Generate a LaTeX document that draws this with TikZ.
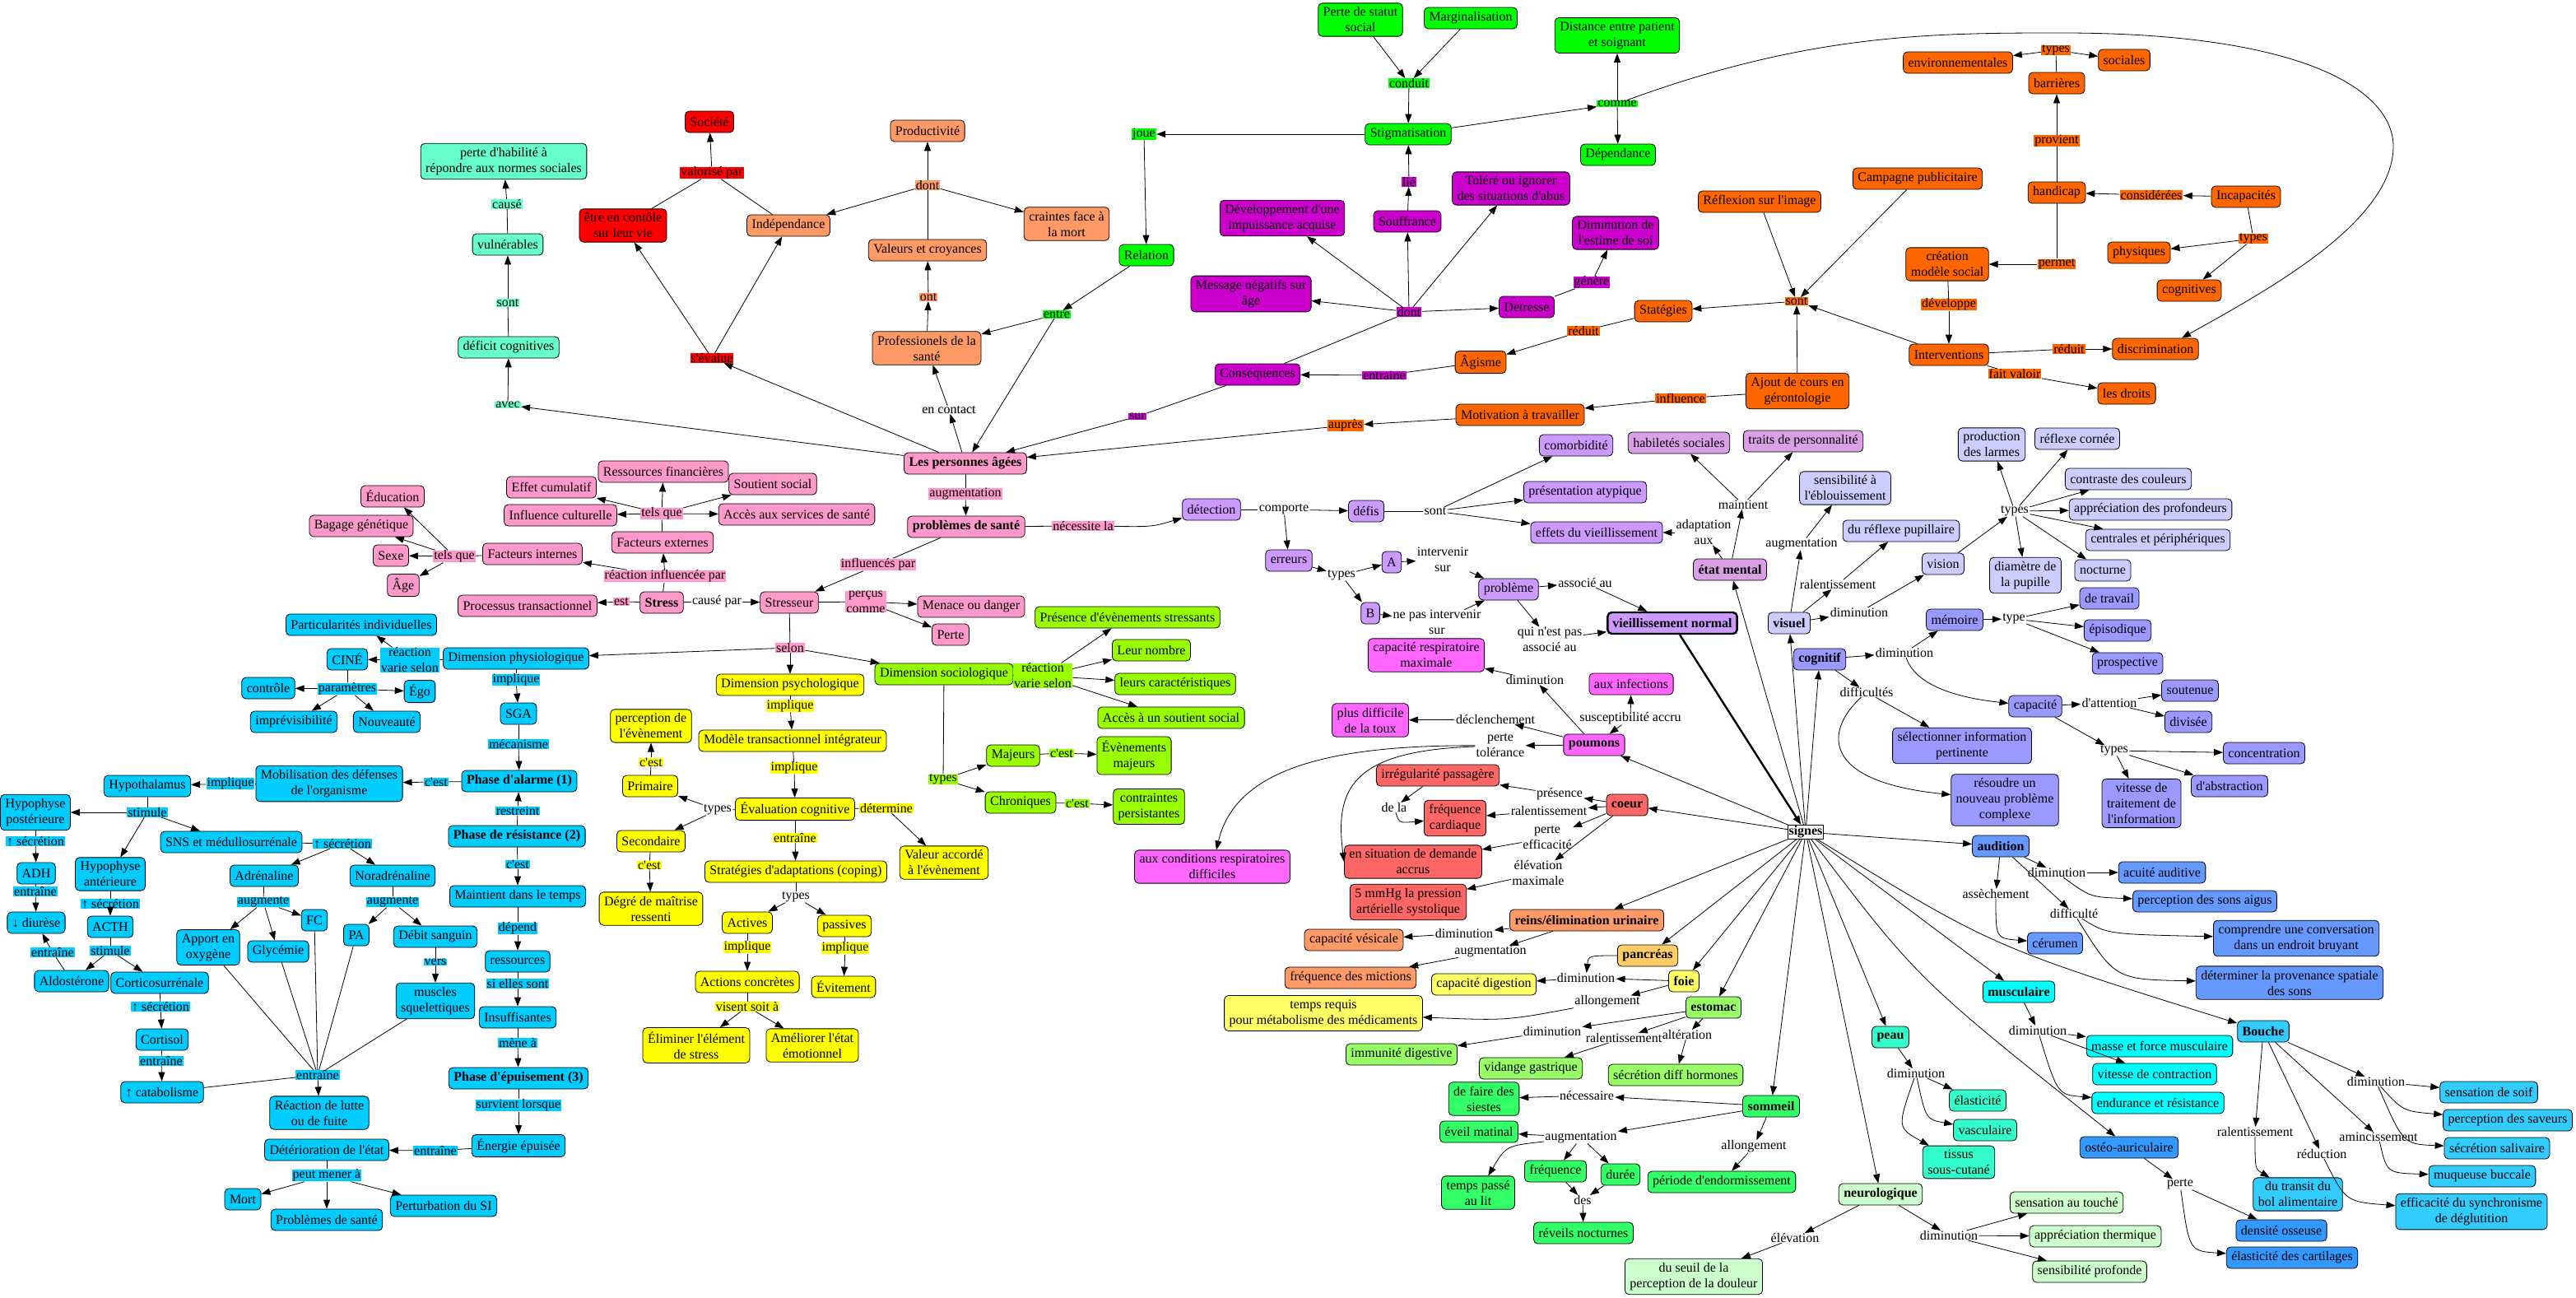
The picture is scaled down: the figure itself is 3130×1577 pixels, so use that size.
\documentclass[tikz,border=0pt]{standalone}
\usepackage{fontspec}
\setmainfont{Liberation Serif}[Ligatures=TeXOff]
\usetikzlibrary{arrows.meta}

\definecolor{cAqua}{HTML}{66FFCC}
\definecolor{cRed}{HTML}{FF0000}
\definecolor{cSalmon}{HTML}{FF9966}
\definecolor{cGreen}{HTML}{00FF00}
\definecolor{cMauve}{HTML}{CC00CC}
\definecolor{cOrange}{HTML}{FF6600}
\definecolor{cPink}{HTML}{FF99CC}
\definecolor{cLilac}{HTML}{CC99FF}
\definecolor{cPlum}{HTML}{D9A0E6}
\definecolor{cPeri}{HTML}{CCCCFF}
\definecolor{cPeriD}{HTML}{9999FF}
\definecolor{cAud}{HTML}{6699FF}
\definecolor{cCyan}{HTML}{00FFFF}
\definecolor{cMouth}{HTML}{33CCFF}
\definecolor{cBone}{HTML}{3399FF}
\definecolor{cPhys}{HTML}{00CCFF}
\definecolor{cYellow}{HTML}{FFFF00}
\definecolor{cLime}{HTML}{99FF00}
\definecolor{cLung}{HTML}{FF66FF}
\definecolor{cHeart}{HTML}{FF6666}
\definecolor{cPanc}{HTML}{FFCC66}
\definecolor{cLiver}{HTML}{FFFF66}
\definecolor{cStom}{HTML}{99FF66}
\definecolor{cSleep}{HTML}{33FF66}
\definecolor{cSkin}{HTML}{33FFCC}
\definecolor{cNeuro}{HTML}{CCFFCC}

\tikzset{
  box/.style={draw, rounded corners=5pt, align=center, inner xsep=6pt, inner ysep=5pt, minimum height=26pt},
  bbox/.style={box, font=\fontsize{16}{19}\selectfont\bfseries},
  lbl/.style={align=center, inner xsep=1pt, inner ysep=0pt},
  ar/.style={-{Triangle[length=11pt,width=8pt]}},
}

\begin{document}
\begin{tikzpicture}[x=1pt, y=-1pt, line width=0.8pt, every node/.style={font=\fontsize{16}{19}\selectfont}]
\fill[white] (0,0) rectangle (3130,1577);
\useasboundingbox (0,0) rectangle (3130,1577);

% cognition and autonomy
\node[box, fill=cAqua] (perte) at (612,196) {perte d'habilité à\\répondre aux normes sociales};
\node[lbl, fill=cAqua] (cause) at (616,248) {causé};
\node[box, fill=cAqua] (vuln) at (617,297) {vulnérables};
\node[lbl, fill=cAqua] (sont1) at (617,368) {sont};
\node[box, fill=cAqua] (deficit) at (618,422) {déficit cognitives};
\node[lbl, fill=cAqua] (avec) at (617,492) {avec};
\node[box, fill=cRed] (controle) at (757,274) {être en contôle\\sur leur vie};
\node[box, fill=cRed] (societe) at (862,148) {Société};
\node[lbl, fill=cRed] (valor) at (865,210) {valorisé par};
\node[lbl, fill=cRed] (seval) at (865,435) {s'évalue};
\node[box, fill=cSalmon] (indep) at (958,274) {Indépendance};
\node[box, fill=cSalmon] (product) at (1127,159) {Productivité};
\node[lbl, fill=cSalmon] (dont1) at (1127,225) {dont};
\node[box, fill=cSalmon] (craintes) at (1296,272) {craintes face à\\la mort};
\node[box, fill=cSalmon] (valeurs) at (1127,304) {Valeurs et croyances};
\node[lbl, fill=cSalmon] (ont) at (1128,361) {ont};
\node[box, fill=cSalmon] (prof) at (1126,423) {Professionels de la\\santé};
\node[lbl, fill=gray!10] (contact) at (1153,498) {en contact};

% stigmatisation
\node[lbl, fill=cGreen] (joue) at (1390,163) {joue};
\node[box, fill=cGreen] (relation) at (1393,310) {Relation};
\node[lbl, fill=cGreen] (entre) at (1284,382) {entre};
\node[box, fill=cGreen] (statut) at (1653,24) {Perte de statut\\social};
\node[box, fill=cGreen] (margin) at (1787,22) {Marginalisation};
\node[lbl, fill=cGreen] (conduit) at (1712,101) {conduit};
\node[box, fill=cGreen] (stigma) at (1711,163) {Stigmatisation};
\node[box, fill=cGreen] (distance) at (1965,43) {Distance entre patient\\et soignant};
\node[lbl, fill=cGreen] (comme) at (1965,126) {comme};
\node[box, fill=cGreen] (depend) at (1966,188) {Dépendance};
\node[lbl, fill=cMauve] (lie) at (1712,221) {lié};
\node[box, fill=cMauve] (souff) at (1710,269) {Souffrance};
\node[box, fill=cMauve] (tolere) at (1836,229) {Toléré ou ignorer\\des situations d'abus};
\node[box, fill=cMauve] (impuiss) at (1558,265) {Développement d'une\\impuissance acquise};
\node[box, fill=cMauve] (message) at (1520,357) {Message négatifs sur\\âge};
\node[box, fill=cMauve] (estime) at (1963,283) {Diminution de\\l'estime de soi};
\node[lbl, fill=cMauve] (genere) at (1934,343) {génère};
\node[lbl, fill=cMauve] (dont2) at (1712,379) {dont};
\node[box, fill=cMauve] (detresse) at (1855,373) {Détresse};
\node[box, fill=cMauve] (conseq) at (1528,455) {Conséquences};
\node[lbl, fill=cMauve] (entraine1) at (1682,456) {entraine};
\node[lbl, fill=cMauve] (sur) at (1382,506) {sur};

% strategies and handicap
\node[box, fill=cOrange] (agisme) at (1799,440) {Âgisme};
\node[lbl, fill=cOrange] (reduit1) at (1924,402) {réduit};
\node[box, fill=cOrange] (strat) at (2021,378) {Statégies};
\node[lbl, fill=cOrange] (sont2) at (2183,366) {sont};
\node[box, fill=cOrange] (reflex) at (2138,245) {Réflexion sur l'image};
\node[box, fill=cOrange] (campagne) at (2330,217) {Campagne publicitaire};
\node[box, fill=cOrange] (cours) at (2184,475) {Ajout de cours en\\gérontologie};
\node[lbl, fill=cOrange] (influ) at (2042,484) {influence};
\node[box, fill=cOrange] (motiv) at (1847,504) {Motivation à travailler};
\node[lbl, fill=cOrange] (aupres) at (1635,517) {auprès};
\node[box, fill=cOrange] (interv) at (2368,431) {Interventions};
\node[box, fill=cOrange] (creation) at (2366,321) {création\\modèle social};
\node[lbl, fill=cOrange] (develop) at (2368,370) {développe};
\node[box, fill=cOrange] (environ) at (2379,76) {environnementales};
\node[lbl, fill=cOrange] (types1) at (2498,61) {types};
\node[box, fill=cOrange] (sociales) at (2581,73) {sociales};
\node[box, fill=cOrange] (barr) at (2499,101) {barrières};
\node[lbl, fill=cOrange] (provient) at (2499,171) {provient};
\node[box, fill=cOrange] (handicap) at (2499,234) {handicap};
\node[lbl, fill=cOrange] (consid) at (2614,237) {considérées};
\node[box, fill=cOrange] (incap) at (2729,239) {Incapacités};
\node[lbl, fill=cOrange] (types2) at (2738,290) {types};
\node[box, fill=cOrange] (physiq) at (2599,307) {physiques};
\node[box, fill=cOrange] (cognitiv) at (2660,353) {cognitives};
\node[lbl, fill=cOrange] (permet) at (2499,321) {permet};
\node[lbl, fill=cOrange] (reduit2) at (2514,424) {réduit};
\node[box, fill=cOrange] (discr) at (2619,424) {discrimination};
\node[lbl, fill=cOrange] (valoir) at (2448,454) {fait valoir};
\node[box, fill=cOrange] (droits) at (2584,478) {les droits};

% elderly, health and stress
\node[bbox, fill=cPink] (lpa) at (1173,563) {Les personnes âgées};
\node[lbl, fill=cPink] (augm1) at (1173,600) {augmentation};
\node[bbox, fill=cPink] (probl) at (1174,640) {problèmes de santé};
\node[lbl, fill=cPink] (necess) at (1316,639) {nécessite la};
\node[lbl, fill=cPink] (influp) at (1067,686) {influencés par};
\node[box, fill=cPink] (stresseur) at (959,732) {Stresseur};
\node[bbox, fill=cPink] (stress) at (804,732) {Stress};
\node[lbl] (causepar) at (871,731) {causé par};
\node[lbl, fill=cPink] (percus) at (1052,731) {perçus\\comme};
\node[box, fill=cPink] (menace) at (1180,737) {Menace ou danger};
\node[box, fill=cPink] (pertep) at (1155,771) {Perte};
\node[lbl, fill=cPink] (est) at (755,731) {est};
\node[box, fill=cPink] (processus) at (641,736) {Processus transactionnel};
\node[lbl, fill=cPink] (reacinf) at (808,700) {réaction influencée par};
\node[box, fill=cPink] (factint) at (647,673) {Facteurs internes};
\node[box, fill=cPink] (factext) at (805,659) {Facteurs externes};
\node[lbl, fill=cPink] (tels1) at (552,676) {tels que};
\node[lbl, fill=cPink] (tels2) at (804,624) {tels que};
\node[box, fill=cPink] (educ) at (477,603) {Éducation};
\node[box, fill=cPink] (bagage) at (439,639) {Bagage génétique};
\node[box, fill=cPink] (sexe) at (475,675) {Sexe};
\node[box, fill=cPink] (age) at (490,711) {Âge};
\node[box, fill=cPink] (ressfin) at (806,573) {Ressources financières};
\node[box, fill=cPink] (cumul) at (670,592) {Effet cumulatif};
\node[box, fill=cPink] (soutien) at (939,588) {Soutient social};
\node[box, fill=cPink] (cultur) at (681,626) {Influence culturelle};
\node[box, fill=cPink] (acces) at (968,625) {Accès aux services de santé};
\node[lbl, fill=cPink] (selon) at (960,787) {selon};

% physiological dimension
\node[box, fill=cPhys] (dimphys) at (627,800) {Dimension physiologique};
\node[box, fill=cPhys] (partic) at (439,759) {Particularités individuelles};
\node[lbl, fill=cPhys] (reacvar1) at (498,802) {réaction\\varie selon};
\node[box, fill=cPhys] (cine) at (422,801) {CINÉ};
\node[lbl, fill=cPhys] (param) at (422,837) {paramètres};
\node[box, fill=cPhys] (controle2) at (326,836) {contrôle};
\node[box, fill=cPhys] (ego) at (510,840) {Égo};
\node[box, fill=cPhys] (imprev) at (357,877) {imprévisibilité};
\node[box, fill=cPhys] (nouveau) at (470,877) {Nouveauté};
\node[lbl, fill=cPhys] (impl1) at (627,826) {implique};
\node[box, fill=cPhys] (sga) at (630,867) {SGA};
\node[lbl, fill=cPhys] (mecan) at (630,904) {mécanisme};
\node[bbox, fill=cPhys] (alarme) at (631,949) {Phase d'alarme (1)};
\node[lbl, fill=cPhys] (cest1) at (530,950) {c'est};
\node[box, fill=cPhys] (mobil) at (400,952) {Mobilisation des défenses\\de l'organisme};
\node[lbl, fill=cPhys] (impl2) at (280,952) {implique};
\node[box, fill=cPhys] (hypoth) at (179,955) {Hypothalamus};
\node[lbl, fill=cPhys] (stim1) at (179,987) {stimule};
\node[box, fill=cPhys] (hpost) at (43,987) {Hypophyse\\postérieure};
\node[lbl, fill=cPhys] (secr1) at (43,1022) {↑ sécrétion};
\node[box, fill=cPhys] (adh) at (44,1061) {ADH};
\node[lbl, fill=cPhys] (entr1) at (43,1083) {entraîne};
\node[box, fill=cPhys] (diurese) at (44,1121) {↓ diurèse};
\node[box, fill=cPhys] (hant) at (134,1062) {Hypophyse\\antérieure};
\node[lbl, fill=cPhys] (secr2) at (134,1098) {↑ sécrétion};
\node[box, fill=cPhys] (acth) at (134,1126) {ACTH};
\node[lbl, fill=cPhys] (stim2) at (134,1155) {stimule};
\node[box, fill=cPhys] (aldo) at (87,1192) {Aldostérone};
\node[lbl, fill=cPhys] (entr2) at (64,1157) {entraîne};
\node[box, fill=cPhys] (cortico) at (194,1194) {Corticosurrénale};
\node[lbl, fill=cPhys] (secr3) at (195,1223) {↑ sécrétion};
\node[box, fill=cPhys] (cortisol) at (197,1263) {Cortisol};
\node[lbl, fill=cPhys] (entr3) at (196,1289) {entraîne};
\node[box, fill=cPhys] (catabol) at (197,1327) {↑ catabolisme};
\node[box, fill=cPhys] (sns) at (281,1023) {SNS et médullosurrénale};
\node[lbl, fill=cPhys] (secr4) at (416,1025) {↑ sécrétion};
\node[box, fill=cPhys] (adren) at (321,1064) {Adrénaline};
\node[box, fill=cPhys] (noradr) at (477,1064) {Noradrénaline};
\node[lbl, fill=cPhys] (augm5) at (320,1096) {augmente};
\node[lbl, fill=cPhys] (augm6) at (477,1096) {augmente};
\node[box, fill=cPhys] (oxyg) at (253,1151) {Apport en\\oxygène};
\node[box, fill=cPhys] (glyc) at (338,1156) {Glycémie};
\node[box, fill=cPhys] (fc) at (382,1118) {FC};
\node[box, fill=cPhys] (pa) at (433,1136) {PA};
\node[box, fill=cPhys] (debit) at (529,1138) {Débit sanguin};
\node[lbl, fill=cPhys] (vers) at (529,1169) {vers};
\node[box, fill=cPhys] (muscles) at (529,1216) {muscles\\squelettiques};
\node[lbl, fill=cPhys] (entr4) at (386,1306) {entraîne};
\node[box, fill=cPhys] (lutte) at (388,1352) {Réaction de lutte\\ou de fuite};
\node[box, fill=cPhys] (deterior) at (397,1397) {Détérioration de l'état};
\node[lbl, fill=cPhys] (entr5) at (529,1398) {entraîne};
\node[box, fill=cPhys] (energie) at (630,1392) {Énergie épuisée};
\node[lbl, fill=cPhys] (mener) at (397,1428) {peut mener à};
\node[box, fill=cPhys] (mort) at (295,1457) {Mort};
\node[box, fill=cPhys] (probsante) at (397,1482) {Problèmes de santé};
\node[box, fill=cPhys] (perturb) at (539,1465) {Perturbation du SI};
\node[bbox, fill=cPhys] (resist) at (628,1016) {Phase de résistance (2)};
\node[lbl, fill=cPhys] (restr) at (629,985) {restreint};
\node[lbl, fill=cPhys] (cest2) at (629,1050) {c'est};
\node[box, fill=cPhys] (maintien) at (629,1089) {Maintient dans le temps};
\node[lbl, fill=cPhys] (dependl) at (629,1128) {dépend};
\node[box, fill=cPhys] (ressour) at (629,1168) {ressources};
\node[lbl, fill=cPhys] (sielles) at (629,1195) {si elles sont};
\node[box, fill=cPhys] (insuff) at (629,1236) {Insuffisantes};
\node[lbl, fill=cPhys] (menea) at (629,1267) {mène à};
\node[bbox, fill=cPhys] (epuis) at (630,1310) {Phase d'épuisement (3)};
\node[lbl, fill=cPhys] (survient) at (630,1343) {survient lorsque};

% psychological dimension
\node[box, fill=cYellow] (dimpsy) at (960,832) {Dimension psychologique};
\node[lbl, fill=cYellow] (impl3) at (960,858) {implique};
\node[box, fill=cYellow] (modele) at (963,900) {Modèle transactionnel intégrateur};
\node[lbl, fill=cYellow] (impl4) at (965,933) {implique};
\node[box, fill=cYellow] (evalc) at (966,983) {Évaluation cognitive};
\node[lbl] (types7) at (872,984) {types};
\node[lbl, fill=cYellow] (determ) at (1077,982) {détermine};
\node[box, fill=cYellow] (valeur) at (1147,1048) {Valeur accordé\\à l'évènement};
\node[lbl, fill=cYellow] (entr6) at (966,1018) {entraîne};
\node[box, fill=cYellow] (stratad) at (967,1059) {Stratégies d'adaptations (coping)};
\node[lbl] (types8) at (967,1090) {types};
\node[box, fill=cYellow] (actives) at (908,1121) {Actives};
\node[box, fill=cYellow] (passives) at (1026,1125) {passives};
\node[lbl, fill=cYellow] (impl5) at (908,1151) {implique};
\node[lbl, fill=cYellow] (impl6) at (1027,1152) {implique};
\node[box, fill=cYellow] (actions) at (908,1193) {Actions concrètes};
\node[box, fill=cYellow] (evitement) at (1025,1199) {Évitement};
\node[lbl, fill=cYellow] (visent) at (908,1223) {visent soit à};
\node[box, fill=cYellow] (eliminer) at (846,1270) {Éliminer l'élément\\de stress};
\node[box, fill=cYellow] (ameliorer) at (987,1270) {Améliorer l'état\\émotionnel};
\node[box, fill=cYellow] (percep) at (791,882) {perception de\\l'évènement};
\node[lbl, fill=cYellow] (cest3) at (791,926) {c'est};
\node[box, fill=cYellow] (primaire) at (790,955) {Primaire};
\node[box, fill=cYellow] (secondaire) at (791,1022) {Secondaire};
\node[lbl, fill=cYellow] (cest4) at (789,1051) {c'est};
\node[box, fill=cYellow] (degre) at (791,1104) {Dégré de maîtrise\\ressenti};

% sociological dimension
\node[box, fill=cLime] (dimsoc) at (1147,819) {Dimension sociologique};
\node[lbl, fill=cLime] (reacvar2) at (1267,821) {réaction\\varie selon};
\node[box, fill=cLime] (presev) at (1370,750) {Présence d'évènements stressants};
\node[box, fill=cLime] (nombre) at (1399,790) {Leur nombre};
\node[box, fill=cLime] (caract) at (1428,831) {leurs caractéristiques};
\node[box, fill=cLime] (accessoc) at (1423,872) {Accès à un soutient social};
\node[lbl, fill=cLime] (types9) at (1146,947) {types};
\node[box, fill=cLime] (majeurs) at (1231,918) {Majeurs};
\node[lbl, fill=cLime] (cest5) at (1290,915) {c'est};
\node[box, fill=cLime] (evmaj) at (1378,918) {Évènements\\majeurs};
\node[box, fill=cLime] (chron) at (1240,975) {Chroniques};
\node[lbl, fill=cLime] (cest6) at (1309,976) {c'est};
\node[box, fill=cLime] (contr) at (1396,980) {contraintes\\persistantes};

% detection and normal ageing
\node[box, fill=cLilac] (detect) at (1472,619) {détection};
\node[lbl] (comporte) at (1560,619) {comporte};
\node[box, fill=cLilac] (defis) at (1660,621) {défis};
\node[lbl] (sont3) at (1744,621) {sont};
\node[box, fill=cLilac] (comorb) at (1915,541) {comorbidité};
\node[box, fill=cLilac] (atyp) at (1926,598) {présentation atypique};
\node[box, fill=cLilac] (effets) at (1940,647) {effets du vieillissement};
\node[box, fill=cLilac] (erreurs) at (1566,681) {erreurs};
\node[lbl] (types3) at (1630,699) {types};
\node[box, fill=cLilac] (nodeA) at (1691,683) {A};
\node[box, fill=cLilac] (nodeB) at (1665,745) {B};
\node[lbl] (interv1) at (1753,680) {intervenir\\sur};
\node[lbl] (interv2) at (1746,756) {ne pas intervenir\\sur};
\node[box, fill=cLilac] (probleme) at (1833,716) {problème};
\node[lbl] (assoc) at (1926,708) {associé au};
\node[lbl] (nassoc) at (1883,777) {qui n'est pas\\associé au};
\node[bbox, fill=cLilac, line width=2.4pt] (vieil) at (2032,757) {vieillissement normal};
\node[box, fill=cPlum] (habil) at (2040,538) {habiletés sociales};
\node[box, fill=cPlum] (traits) at (2191,536) {traits de personnalité};
\node[lbl] (maint) at (2118,613) {maintient};
\node[lbl] (adapt) at (2070,647) {adaptation\\aux};
\node[bbox, fill=cPlum] (mental) at (2102,692) {état mental};
\node[draw, line width=1.2pt, fill=white, inner sep=1pt, font=\fontsize{16}{19}\selectfont\bfseries] (signes) at (2194,1011) {signes};

% vision
\node[bbox, fill=cPeri] (visuel) at (2174,757) {visuel};
\node[lbl] (augm2) at (2189,661) {augmentation};
\node[box, fill=cPeri] (eblou) at (2242,593) {sensibilité à\\l'éblouissement};
\node[lbl] (ralent1) at (2233,710) {ralentissement};
\node[box, fill=cPeri] (pupil) at (2310,645) {du réflexe pupillaire};
\node[lbl] (dimin1) at (2259,744) {diminution};
\node[box, fill=cPeri] (vision) at (2361,685) {vision};
\node[lbl] (types4) at (2448,621) {types};
\node[box, fill=cPeri] (larmes) at (2420,540) {production\\des larmes};
\node[box, fill=cPeri] (cornee) at (2524,533) {réflexe cornée};
\node[box, fill=cPeri] (contraste) at (2586,582) {contraste des couleurs};
\node[box, fill=cPeri] (profond) at (2613,619) {appréciation des profondeurs};
\node[box, fill=cPeri] (central) at (2622,656) {centrales et périphériques};
\node[box, fill=cPeri] (diametre) at (2461,699) {diamètre de\\la pupille};
\node[box, fill=cPeri] (nocturne) at (2555,693) {nocturne};

% cognition
\node[bbox, fill=cPeriD] (cognitif) at (2211,801) {cognitif};
\node[lbl] (dimin2) at (2314,793) {diminution};
\node[box, fill=cPeriD] (memoire) at (2375,753) {mémoire};
\node[lbl] (type5) at (2447,752) {type};
\node[box, fill=cPeriD] (travail) at (2563,727) {de travail};
\node[box, fill=cPeriD] (episod) at (2573,766) {épisodique};
\node[box, fill=cPeriD] (prospect) at (2585,806) {prospective};
\node[box, fill=cPeriD] (capac) at (2473,858) {capacité};
\node[lbl] (attent) at (2563,854) {d'attention};
\node[box, fill=cPeriD] (soutenue) at (2661,839) {soutenue};
\node[box, fill=cPeriD] (divisee) at (2659,877) {divisée};
\node[lbl] (types6) at (2569,912) {types};
\node[box, fill=cPeriD] (concent) at (2751,915) {concentration};
\node[box, fill=cPeriD] (vitesse) at (2602,976) {vitesse de\\traitement de\\l'information};
\node[box, fill=cPeriD] (abstr) at (2709,955) {d'abstraction};
\node[lbl] (diffic) at (2268,841) {difficultés};
\node[box, fill=cPeriD] (select) at (2384,906) {sélectionner information\\pertinente};
\node[box, fill=cPeriD] (resoudre) at (2436,972) {résoudre un\\nouveau problème\\complexe};

% lungs and heart
\node[bbox, fill=cLung] (poumons) at (1937,905) {poumons};
\node[lbl] (dimin3) at (1865,826) {diminution};
\node[box, fill=cLung] (capresp) at (1733,796) {capacité respiratoire\\maximale};
\node[box, fill=cLung] (infect) at (1982,831) {aux infections};
\node[lbl] (suscept) at (1981,873) {susceptibilité accru};
\node[box, fill=cLung] (toux) at (1665,875) {plus difficile\\de la toux};
\node[lbl] (declench) at (1817,874) {déclenchement};
\node[lbl] (pertetol) at (1823,906) {perte\\tolérance};
\node[box, fill=cLung] (respdiff) at (1473,1053) {aux conditions respiratoires\\difficiles};
\node[bbox, fill=cHeart] (coeur) at (1977,978) {coeur};
\node[lbl] (presence) at (1895,965) {présence};
\node[box, fill=cHeart] (irreg) at (1747,942) {irrégularité passagère};
\node[lbl] (dela) at (1694,981) {de la};
\node[box, fill=cHeart] (freqcard) at (1768,994) {fréquence\\cardiaque};
\node[lbl] (ralent2) at (1882,985) {ralentissement};
\node[lbl] (perteff) at (1880,1018) {perte\\efficacité};
\node[box, fill=cHeart] (situation) at (1717,1047) {en situation de demande\\accrus};
\node[lbl] (elev1) at (1869,1061) {élévation\\maximale};
\node[box, fill=cHeart] (mmhg) at (1711,1096) {5 mmHg la pression\\artérielle systolique};

% digestion and sleep
\node[bbox, fill=cSalmon] (reins) at (1928,1118) {reins/élimination urinaire};
\node[lbl] (dimin4) at (1779,1134) {diminution};
\node[box, fill=cSalmon] (vesic) at (1645,1142) {capacité vésicale};
\node[lbl] (augm3) at (1811,1156) {augmentation};
\node[box, fill=cSalmon] (miction) at (1641,1188) {fréquence des mictions};
\node[bbox, fill=cPanc] (pancreas) at (2002,1161) {pancréas};
\node[lbl] (dimin5) at (1927,1188) {diminution};
\node[box, fill=cLiver] (digest) at (1803,1196) {capacité digestion};
\node[bbox, fill=cLiver] (foie) at (2046,1192) {foie};
\node[lbl] (allong1) at (1953,1217) {allongement};
\node[box, fill=cLiver] (medic) at (1608,1231) {temps requis\\pour métabolisme des médicaments};
\node[bbox, fill=cStom] (estomac) at (2082,1224) {estomac};
\node[lbl] (dimin6) at (1886,1253) {diminution};
\node[box, fill=cStom] (immun) at (1703,1281) {immunité digestive};
\node[lbl] (ralent3) at (1973,1261) {ralentissement};
\node[lbl] (alter) at (2050,1257) {altération};
\node[box, fill=cStom] (vidange) at (1860,1298) {vidange gastrique};
\node[box, fill=cStom] (hormones) at (2036,1306) {sécrétion diff hormones};
\node[bbox, fill=cSleep] (sommeil) at (2152,1344) {sommeil};
\node[lbl] (necess2) at (1928,1331) {nécessaire};
\node[box, fill=cSleep] (siestes) at (1803,1335) {de faire des\\siestes};
\node[lbl] (augm4) at (1921,1382) {augmentation};
\node[box, fill=cSleep] (eveil) at (1797,1375) {éveil matinal};
\node[box, fill=cSleep] (tempslit) at (1796,1449) {temps passé\\au lit};
\node[box, fill=cSleep] (freqsom) at (1890,1423) {fréquence};
\node[box, fill=cSleep] (duree) at (1969,1427) {durée};
\node[lbl] (des) at (1923,1458) {des};
\node[box, fill=cSleep] (reveils) at (1924,1498) {réveils nocturnes};
\node[lbl] (allong2) at (2131,1393) {allongement};
\node[box, fill=cSleep] (endorm) at (2092,1436) {période d'endormissement};

% skin and nerves
\node[bbox, fill=cSkin] (peau) at (2297,1260) {peau};
\node[lbl] (dimin7) at (2328,1304) {diminution};
\node[box, fill=cSkin] (elast) at (2403,1337) {élasticité};
\node[box, fill=cSkin] (vascul) at (2412,1373) {vasculaire};
\node[box, fill=cSkin] (tissus) at (2380,1412) {tissus\\sous-cutané};
\node[bbox, fill=cNeuro] (neuro) at (2285,1451) {neurologique};
\node[lbl] (elev2) at (2181,1504) {élévation};
\node[box, fill=cNeuro] (seuil) at (2058,1551) {du seuil de la\\perception de la douleur};
\node[lbl] (dimin8) at (2368,1501) {diminution};
\node[box, fill=cNeuro] (touche) at (2511,1461) {sensation au touché};
\node[box, fill=cNeuro] (thermiq) at (2546,1502) {appréciation thermique};
\node[box, fill=cNeuro] (profonde) at (2539,1545) {sensibilité profonde};

% hearing, muscles, mouth, bones
\node[bbox, fill=cAud] (audition) at (2431,1028) {audition};
\node[lbl] (dimin9) at (2499,1060) {diminution};
\node[box, fill=cAud] (acuite) at (2627,1060) {acuité auditive};
\node[box, fill=cAud] (aigus) at (2679,1095) {perception des sons aigus};
\node[lbl] (assech) at (2425,1086) {assèchement};
\node[lbl] (diffic2) at (2520,1110) {difficulté};
\node[box, fill=cAud] (cerumen) at (2497,1146) {cérumen};
\node[box, fill=cAud] (convers) at (2790,1140) {comprendre une conversation\\dans un endroit bruyant};
\node[box, fill=cAud] (provenance) at (2782,1194) {déterminer la provenance spatiale\\des sons};
\node[bbox, fill=cCyan] (muscul) at (2453,1205) {musculaire};
\node[lbl] (dimin10) at (2476,1252) {diminution};
\node[box, fill=cCyan] (masse) at (2624,1271) {masse et force musculaire};
\node[box, fill=cCyan] (contract) at (2618,1305) {vitesse de contraction};
\node[box, fill=cCyan] (endur) at (2622,1340) {endurance et résistance};
\node[bbox, fill=cMouth] (bouche) at (2750,1253) {Bouche};
\node[lbl] (dimin11) at (2887,1314) {diminution};
\node[box, fill=cMouth] (soif) at (3024,1327) {sensation de soif};
\node[box, fill=cMouth] (saveurs) at (3047,1361) {perception des saveurs};
\node[box, fill=cMouth] (saliv) at (3034,1395) {sécrétion salivaire};
\node[box, fill=cMouth] (muqueuse) at (3016,1429) {muqueuse buccale};
\node[box, fill=cMouth] (synchro) at (3003,1472) {efficacité du synchronisme\\de déglutition};
\node[lbl] (ralent4) at (2740,1375) {ralentissement};
\node[box, fill=cMouth] (transit) at (2792,1451) {du transit du\\bol alimentaire};
\node[lbl] (reduct) at (2821,1402) {réduction};
\node[lbl] (aminc) at (2890,1381) {amincissement};
\node[box, fill=cBone] (osteo) at (2587,1394) {ostéo-auriculaire};
\node[lbl] (perte2) at (2649,1439) {perte};
\node[box, fill=cBone] (densite) at (2772,1495) {densité osseuse};
\node[box, fill=cBone] (cartil) at (2785,1528) {élasticité des cartilages};

% links: cognition, autonomy, professionals
\draw[ar] (lpa) -- (avec);
\draw[ar] (avec) -- (deficit);
\draw (deficit) -- (sont1);
\draw[ar] (sont1) -- (vuln);
\draw (vuln) -- (cause);
\draw[ar] (cause) -- (perte);
\draw[ar] (lpa) -- (seval);
\draw[ar] (seval) -- (controle);
\draw[ar] (seval) -- (indep);
\draw (controle) -- (valor);
\draw (indep) -- (valor);
\draw[ar] (valor) -- (societe);
\draw[ar] (lpa) -- (contact);
\draw[ar] (contact) -- (prof);
\draw[ar] (prof) -- (ont);
\draw[ar] (ont) -- (valeurs);
\draw (valeurs) -- (dont1);
\foreach \x in {product, indep, craintes} \draw[ar] (dont1) -- (\x);

% links: stigmatisation
\draw[ar] (stigma) -- (joue);
\draw[ar] (joue) -- (relation);
\draw[ar] (relation) -- (entre);
\draw[ar] (entre) -- (prof);
\draw[ar] (entre) -- (lpa);
\draw[ar] (statut) -- (conduit);
\draw[ar] (margin) -- (conduit);
\draw[ar] (conduit) -- (stigma);
\draw[ar] (stigma) -- (comme);
\draw[ar] (comme) -- (distance);
\draw[ar] (comme) -- (depend);
\draw[ar] (comme) .. controls (2200,40) and (2350,40) .. (2506,40) .. controls (2800,40) and (2910,110) .. (2908,180) .. controls (2905,270) and (2760,350) .. ([xshift=32pt]discr.north);
\draw[ar] (souff) -- (lie);
\draw[ar] (lie) -- (stigma);
\draw (conseq) -- (dont2);
\foreach \x in {impuiss, message, souff, tolere, detresse} \draw[ar] (dont2) -- (\x);
\draw (detresse) -- (genere);
\draw[ar] (genere) -- (estime);
\draw (conseq) -- (sur);
\draw[ar] (sur) -- (lpa);
\draw (agisme) -- (entraine1);
\draw[ar] (entraine1) -- (conseq);

% links: strategies and handicap
\draw (strat) -- (reduit1);
\draw[ar] (reduit1) -- (agisme);
\foreach \x in {reflex, campagne, cours, interv} \draw[ar] (\x) -- (sont2);
\draw[ar] (sont2) -- (strat);
\draw (cours) -- (influ);
\draw[ar] (influ) -- (motiv);
\draw[ar] (motiv) -- (aupres);
\draw[ar] (aupres) -- (lpa);
\draw (handicap) -- (provient);
\draw[ar] (provient) -- (barr);
\draw (barr) -- (types1);
\draw[ar] (types1) -- (environ);
\draw[ar] (types1) -- (sociales);
\draw[ar] (incap) -- (consid);
\draw[ar] (consid) -- (handicap);
\draw (incap) -- (types2);
\draw[ar] (types2) -- (physiq);
\draw[ar] (types2) -- (cognitiv);
\draw (handicap) -- (permet);
\draw[ar] (permet) -- (creation);
\draw (creation) -- (develop);
\draw[ar] (develop) -- (interv);
\draw (interv) -- (reduit2);
\draw[ar] (reduit2) -- (discr);
\draw (interv) -- (valoir);
\draw[ar] (valoir) -- (droits);

% links: stress
\draw (lpa) -- (augm1);
\draw[ar] (augm1) -- (probl);
\draw (probl) -- (necess);
\draw[ar] (necess) .. controls (1400,640) .. (detect);
\draw (probl) -- (influp);
\draw[ar] (influp) -- (stresseur);
\draw (stress) -- (causepar);
\draw[ar] (causepar) -- (stresseur);
\draw (stress) -- (est);
\draw[ar] (est) -- (processus);
\draw (stress) -- (reacinf);
\draw[ar] (reacinf) -- (factint);
\draw[ar] (reacinf) -- (factext);
\draw (factint) -- (tels1);
\foreach \x in {educ, bagage, sexe, age} \draw[ar] (tels1) -- (\x);
\draw (factext) -- (tels2);
\foreach \x in {ressfin, cumul, cultur, soutien, acces} \draw[ar] (tels2) -- (\x);
\draw (stresseur) -- (percus);
\draw[ar] (percus) -- (menace);
\draw[ar] (percus) -- (pertep);
\draw (stresseur) -- (selon);
\foreach \x in {dimphys, dimpsy, dimsoc} \draw[ar] (selon) -- (\x);

% links: physiological dimension
\draw (dimphys) -- (reacvar1);
\draw[ar] (reacvar1) -- (cine);
\draw[ar] (reacvar1) -- (partic);
\draw (cine) -- (param);
\foreach \x in {controle2, ego, imprev, nouveau} \draw[ar] (param) -- (\x);
\draw (dimphys) -- (impl1);
\draw[ar] (impl1) -- (sga);
\draw (sga) -- (mecan);
\draw[ar] (mecan) -- (alarme);
\draw (alarme) -- (cest1);
\draw[ar] (cest1) -- (mobil);
\draw (mobil) -- (impl2);
\draw[ar] (impl2) -- (hypoth);
\draw (hypoth) -- (stim1);
\foreach \x in {hpost, hant, sns} \draw[ar] (stim1) -- (\x);
\draw (hpost) -- (secr1);
\draw[ar] (secr1) -- (adh);
\draw (adh) -- (entr1);
\draw[ar] (entr1) -- (diurese);
\draw (hant) -- (secr2);
\draw[ar] (secr2) -- (acth);
\draw (acth) -- (stim2);
\draw[ar] (stim2) -- (aldo);
\draw[ar] (stim2) -- (cortico);
\draw (aldo) -- (entr2);
\draw[ar] (entr2) -- (diurese);
\draw (cortico) -- (secr3);
\draw[ar] (secr3) -- (cortisol);
\draw (cortisol) -- (entr3);
\draw[ar] (entr3) -- (catabol);
\draw (sns) -- (secr4);
\draw[ar] (secr4) -- (adren);
\draw[ar] (secr4) -- (noradr);
\draw (adren) -- (augm5);
\foreach \x in {oxyg, glyc, fc} \draw[ar] (augm5) -- (\x);
\draw (noradr) -- (augm6);
\draw[ar] (augm6) -- (pa);
\draw[ar] (augm6) -- (debit);
\draw (debit) -- (vers);
\draw[ar] (vers) -- (muscles);
\foreach \x in {oxyg, glyc, fc, pa, muscles, catabol} \draw (\x) -- (entr4);
\draw[ar] (entr4) -- (lutte);
\draw (resist) -- (restr);
\draw[ar] (restr) -- (alarme);
\draw (resist) -- (cest2);
\draw[ar] (cest2) -- (maintien);
\draw (maintien) -- (dependl);
\draw[ar] (dependl) -- (ressour);
\draw (ressour) -- (sielles);
\draw[ar] (sielles) -- (insuff);
\draw (insuff) -- (menea);
\draw[ar] (menea) -- (epuis);
\draw (epuis) -- (survient);
\draw[ar] (survient) -- (energie);
\draw (energie) -- (entr5);
\draw[ar] (entr5) -- (deterior);
\draw (deterior) -- (mener);
\foreach \x in {mort, probsante, perturb} \draw[ar] (mener) -- (\x);

% links: psychological and sociological dimensions
\draw (dimpsy) -- (impl3);
\draw[ar] (impl3) -- (modele);
\draw (modele) -- (impl4);
\draw[ar] (impl4) -- (evalc);
\draw (evalc) -- (types7);
\draw[ar] (types7) -- (primaire);
\draw[ar] (types7) -- (secondaire);
\draw (primaire) -- (cest3);
\draw[ar] (cest3) -- (percep);
\draw (secondaire) -- (cest4);
\draw[ar] (cest4) -- (degre);
\draw (evalc) -- (determ);
\draw[ar] (determ) -- (valeur);
\draw (evalc) -- (entr6);
\draw[ar] (entr6) -- (stratad);
\draw (stratad) -- (types8);
\draw[ar] (types8) -- (actives);
\draw[ar] (types8) -- (passives);
\draw (actives) -- (impl5);
\draw[ar] (impl5) -- (actions);
\draw (passives) -- (impl6);
\draw[ar] (impl6) -- (evitement);
\draw (actions) -- (visent);
\draw[ar] (visent) -- (eliminer);
\draw[ar] (visent) -- (ameliorer);
\draw (dimsoc) -- (reacvar2);
\foreach \x in {presev, nombre, caract, accessoc} \draw[ar] (reacvar2) -- (\x);
\draw (dimsoc) -- (types9);
\draw[ar] (types9) -- (majeurs);
\draw[ar] (types9) -- (chron);
\draw (majeurs) -- (cest5);
\draw[ar] (cest5) -- (evmaj);
\draw (chron) -- (cest6);
\draw[ar] (cest6) -- (contr);

% links: detection and normal ageing
\draw (detect) -- (comporte);
\draw[ar] (comporte) -- (defis);
\draw[ar] (comporte) -- (erreurs);
\draw (defis) -- (sont3);
\foreach \x in {comorb, atyp, effets} \draw[ar] (sont3) -- (\x);
\draw[ar] (erreurs) -- (types3);
\draw[ar] (types3) -- (nodeA);
\draw[ar] (types3) -- (nodeB);
\draw[ar] (nodeA) -- (interv1);
\draw[ar] (interv1) -- (probleme);
\draw[ar] (nodeB) -- (interv2);
\draw[ar] (interv2) -- (probleme);
\draw[ar] (probleme) -- (assoc);
\draw[ar] (assoc) -- (vieil);
\draw[ar] (probleme) -- (nassoc);
\draw[ar] (nassoc) -- (vieil);
\draw[ar, line width=2.4pt] (vieil) -- (signes);
\draw[ar] (mental) -- (adapt);
\draw[ar] (adapt) -- (effets);
\draw[ar] (mental) -- (maint);
\draw[ar] (maint) -- (habil);
\draw[ar] (maint) -- (traits);

% signs of ageing
\foreach \x in {mental, visuel, cognitif, poumons, coeur, audition, muscul, reins, pancreas, foie, estomac, sommeil, neuro, peau} \draw[ar] (signes) -- (\x);
\draw[ar] (signes) .. controls (2330,1190) .. (osteo);
\draw[ar] (signes) .. controls (2420,1150) .. (bouche);

% vision and cognition
\draw[ar] (visuel) -- (augm2);
\draw[ar] (augm2) -- (eblou);
\draw[ar] (visuel) -- (ralent1);
\draw[ar] (ralent1) -- (pupil);
\draw[ar] (visuel) -- (dimin1);
\draw[ar] (dimin1) -- (vision);
\draw[ar] (vision) -- (types4);
\foreach \x in {larmes, cornee, contraste, profond, central, diametre, nocturne} \draw[ar] (types4) -- (\x);
\draw[ar] (cognitif) -- (dimin2);
\draw[ar] (dimin2) -- (memoire);
\draw[ar] (dimin2) .. controls (2330,840) and (2400,850) .. (capac);
\draw[ar] (memoire) -- (type5);
\foreach \x in {travail, episod, prospect} \draw[ar] (type5) -- (\x);
\draw[ar] (capac) -- (attent);
\draw[ar] (attent) -- (soutenue);
\draw[ar] (attent) -- (divisee);
\draw[ar] (capac) -- (types6);
\foreach \x in {concent, vitesse, abstr} \draw[ar] (types6) -- (\x);
\draw[ar] (cognitif) -- (diffic);
\draw[ar] (diffic) -- (select);
\draw[ar] (diffic) .. controls (2215,890) and (2215,950) .. (resoudre);

% lungs and heart
\draw[ar] (poumons) -- (dimin3);
\draw[ar] (dimin3) -- (capresp);
\draw[ar] (suscept) -- (poumons);
\draw[ar] (suscept) -- (infect);
\draw[ar] (poumons) -- (declench);
\draw[ar] (declench) -- (toux);
\draw[ar] (poumons) -- (pertetol);
\draw[ar] (pertetol) .. controls (1600,905) and (1500,940) .. (respdiff);
\draw[ar] (pertetol) .. controls (1640,912) and (1622,960) .. (situation.west);
\draw[ar] (coeur) -- (presence);
\draw[ar] (presence) -- (irreg);
\draw[ar] (irreg) -- (dela);
\draw[ar] (dela) .. controls (1700,1000) .. (freqcard);
\draw[ar] (coeur) -- (ralent2);
\draw[ar] (ralent2) -- (freqcard);
\draw[ar] (coeur) -- (perteff);
\draw[ar] (perteff) -- (situation);
\draw[ar] (coeur) -- (elev1);
\draw[ar] (elev1) -- (mmhg);

% digestion and sleep
\draw[ar] (reins) -- (dimin4);
\draw[ar] (dimin4) -- (vesic);
\draw[ar] (reins) -- (augm3);
\draw[ar] (augm3) -- (miction);
\draw[ar] (pancreas) .. controls (1930,1161) .. (dimin5);
\draw[ar] (foie) -- (dimin5);
\draw[ar] (dimin5) -- (digest);
\draw[ar] (foie) -- (allong1);
\draw[ar] (allong1) .. controls (1830,1240) .. (medic);
\draw[ar] (estomac) -- (dimin6);
\draw[ar] (dimin6) -- (immun);
\draw[ar] (estomac) -- (ralent3);
\draw[ar] (ralent3) -- (vidange);
\draw[ar] (estomac) -- (alter);
\draw[ar] (alter) -- (hormones);
\draw[ar] (sommeil) -- (necess2);
\draw[ar] (necess2) -- (siestes);
\draw[ar] (sommeil) -- (augm4);
\foreach \x in {eveil, freqsom, duree} \draw[ar] (augm4) -- (\x);
\draw[ar] (augm4) .. controls (1830,1392) .. (tempslit);
\draw[ar] (freqsom) -- (des);
\draw[ar] (duree) -- (des);
\draw[ar] (des) -- (reveils);
\draw[ar] (sommeil) -- (allong2);
\draw[ar] (allong2) -- (endorm);

% skin and nerves
\draw[ar] (peau) -- (dimin7);
\draw[ar] (dimin7) -- (elast);
\draw[ar] (dimin7) .. controls (2340,1360) .. (vascul);
\draw[ar] (dimin7) .. controls (2305,1370) .. (tissus);
\draw[ar] (neuro) -- (elev2);
\draw[ar] (elev2) -- (seuil);
\draw[ar] (neuro) -- (dimin8);
\foreach \x in {touche, thermiq, profonde} \draw[ar] (dimin8) -- (\x);

% hearing, muscles, mouth, bones
\draw[ar] (audition) -- (dimin9);
\draw[ar] (dimin9) -- (acuite);
\draw[ar] (dimin9) .. controls (2540,1090) .. (aigus);
\draw[ar] (audition) -- (assech);
\draw[ar] (assech) .. controls (2425,1140) .. (cerumen);
\draw[ar] (audition) -- (diffic2);
\draw[ar] (diffic2) .. controls (2560,1135) .. (convers);
\draw[ar] (diffic2) .. controls (2570,1190) .. (provenance);
\draw[ar] (muscul) -- (dimin10);
\draw[ar] (dimin10) -- (masse);
\draw[ar] (dimin10) -- (contract);
\draw[ar] (dimin10) .. controls (2500,1330) .. (endur);
\draw[ar] (bouche) -- (dimin11);
\draw[ar] (dimin11) -- (soif);
\draw[ar] (dimin11) .. controls (2920,1350) .. (saveurs);
\draw[ar] (dimin11) .. controls (2920,1390) .. (saliv);
\draw[ar] (bouche) -- (ralent4);
\draw[ar] (ralent4) .. controls (2740,1420) .. (transit);
\draw[ar] (bouche) -- (reduct);
\draw[ar] (reduct) .. controls (2850,1460) .. (synchro);
\draw[ar] (bouche) -- (aminc);
\draw[ar] (aminc) .. controls (2900,1425) .. (muqueuse);
\draw[ar] (osteo) -- (perte2);
\draw[ar] (perte2) -- (densite);
\draw[ar] (perte2) .. controls (2660,1520) .. (cartil);
\end{tikzpicture}
\end{document}
